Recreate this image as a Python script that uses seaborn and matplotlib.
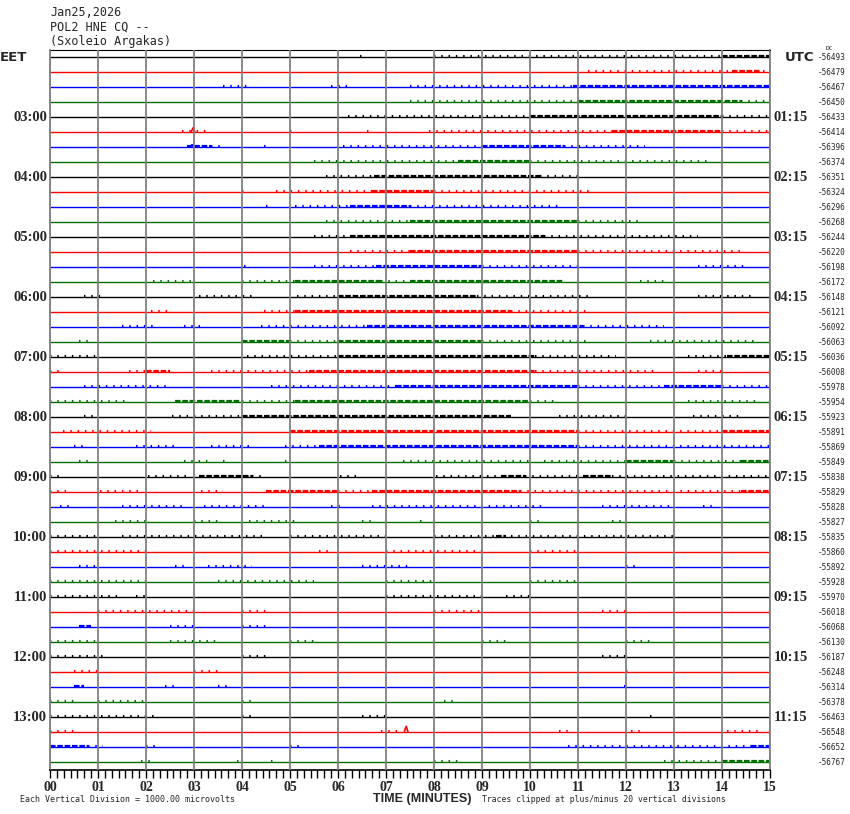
import numpy as np
import pandas as pd
import matplotlib
matplotlib.use("Agg")
import matplotlib.pyplot as plt
from matplotlib.ticker import MultipleLocator
import seaborn as sns

# Header text
DATE_LINE = "Jan25,2026"
STATION_LINE = "POL2 HNE CQ --"
SITE_LINE = "(Sxoleio Argakas)"

# DC offset for each 15-minute trace (top to bottom)
DC_OFFSETS = [-56493, -56479, -56467, -56450, -56433, -56414, -56396, -56374,
              -56351, -56324, -56296, -56268, -56244, -56220, -56198, -56172,
              -56148, -56121, -56092, -56063, -56036, -56008, -55978, -55954,
              -55923, -55891, -55869, -55849, -55838, -55829, -55828, -55827,
              -55835, -55860, -55892, -55928, -55970, -56018, -56068, -56130,
              -56187, -56248, -56314, -56378, -56463, -56548, -56652, -56767]

HOUR_ROWS = [4, 8, 12, 16, 20, 24, 28, 32, 36, 40, 44]
LEFT_HOURS = ["03:00", "04:00", "05:00", "06:00", "07:00", "08:00",
              "09:00", "10:00", "11:00", "12:00", "13:00"]
RIGHT_HOURS = ["01:15", "02:15", "03:15", "04:15", "05:15", "06:15",
               "07:15", "08:15", "09:15", "10:15", "11:15"]

TRACE_COLORS = ["#000000", "#ff0000", "#0000ff", "#007000"]
MINUTES = list(range(16))

# scattered noise stretches: (row, start minute, end minute)
SPARSE = [
    (0, 6.45, 6.55), (0, 8.0, 14.0),
    (1, 11.2, 15.0),
    (2, 3.6, 4.15), (2, 5.85, 6.3), (2, 7.5, 10.9),
    (3, 7.5, 11.0), (3, 14.4, 15.0),
    (4, 6.2, 10.0), (4, 14.0, 15.0),
    (5, 2.75, 3.3), (5, 5.0, 5.1), (5, 6.6, 6.7), (5, 7.9, 11.7), (5, 14.0, 15.0),
    (6, 3.35, 3.6), (6, 4.45, 4.55), (6, 6.1, 9.0), (6, 10.7, 12.4),
    (7, 5.5, 8.5), (7, 10.0, 13.75),
    (8, 5.75, 6.75), (8, 10.2, 11.0),
    (9, 4.0, 4.1), (9, 4.7, 6.7), (9, 8.0, 11.25),
    (10, 4.5, 4.6), (10, 5.1, 6.25), (10, 7.5, 10.6),
    (11, 5.75, 7.5), (11, 11.0, 12.3),
    (12, 5.5, 6.25), (12, 10.3, 13.5),
    (13, 6.25, 7.5), (13, 11.0, 14.4),
    (14, 4.05, 4.15), (14, 5.5, 6.8), (14, 9.0, 11.1), (14, 13.5, 14.45),
    (15, 2.15, 3.05), (15, 4.0, 5.1), (15, 6.9, 7.5), (15, 12.3, 12.85),
    (16, 0.7, 1.1), (16, 3.1, 4.3), (16, 5.15, 6.0), (16, 8.9, 11.3), (16, 13.5, 14.65),
    (17, 2.1, 2.5), (17, 4.45, 5.1), (17, 9.6, 11.25),
    (18, 1.5, 2.15), (18, 2.8, 3.2), (18, 4.4, 6.6), (18, 11.1, 12.8),
    (19, 0.6, 0.87), (19, 5.0, 6.0), (19, 9.0, 11.2), (19, 12.5, 14.7),
    (20, 0.0, 1.05), (20, 4.1, 6.0), (20, 10.1, 11.8), (20, 13.3, 14.1),
    (21, 0.0, 0.3), (21, 1.65, 2.0), (21, 3.35, 5.4), (21, 10.1, 12.6), (21, 13.5, 14.0),
    (22, 0.7, 2.5), (22, 4.6, 7.2), (22, 11.0, 12.8), (22, 14.0, 15.0),
    (23, 0.0, 1.65), (23, 4.0, 5.1), (23, 10.0, 10.6), (23, 13.3, 14.8),
    (24, 0.7, 1.0), (24, 2.55, 4.0), (24, 10.6, 12.0), (24, 13.4, 14.4),
    (25, 0.28, 2.1), (25, 11.0, 14.0),
    (26, 0.5, 0.7), (26, 1.8, 2.6), (26, 3.35, 4.25), (26, 4.9, 5.6), (26, 11.0, 15.0),
    (27, 0.6, 0.85), (27, 2.8, 3.3), (27, 3.6, 3.65), (27, 4.9, 4.95), (27, 7.35, 10.0),
    (27, 10.3, 12.0), (27, 13.0, 14.4),
    (28, 0.0, 0.3), (28, 2.05, 2.85), (28, 4.2, 4.45), (28, 6.05, 6.4), (28, 8.05, 9.4),
    (28, 9.9, 11.1), (28, 11.7, 15.0),
    (29, 0.0, 0.4), (29, 1.05, 1.9), (29, 3.15, 3.6), (29, 6.0, 6.7), (29, 9.8, 14.4),
    (30, 0.2, 0.5), (30, 1.5, 2.85), (30, 3.2, 4.5), (30, 5.85, 6.1), (30, 6.7, 10.3),
    (30, 11.5, 13.0), (30, 13.6, 13.9),
    (31, 1.35, 2.1), (31, 3.0, 3.55), (31, 4.15, 5.2), (31, 6.5, 6.75), (31, 7.7, 7.8),
    (31, 10.0, 10.2), (31, 11.7, 12.0),
    (32, 0.0, 1.0), (32, 1.5, 4.5), (32, 5.0, 7.0), (32, 8.0, 9.3), (32, 9.6, 13.0),
    (33, 0.0, 2.0), (33, 5.6, 5.8), (33, 7.0, 9.0), (33, 10.0, 11.0),
    (34, 0.6, 1.0), (34, 2.6, 2.8), (34, 3.3, 4.2), (34, 6.5, 7.5), (34, 12.0, 12.3),
    (35, 0.0, 2.0), (35, 3.5, 5.5), (35, 7.0, 8.0), (35, 10.0, 11.0),
    (36, 0.0, 1.5), (36, 1.8, 2.0), (36, 7.0, 9.0), (36, 9.5, 10.0),
    (37, 1.0, 3.0), (37, 4.0, 4.5), (37, 8.0, 9.0), (37, 11.5, 12.0),
    (38, 2.5, 3.0), (38, 4.0, 4.5),
    (39, 0.0, 1.0), (39, 2.5, 3.5), (39, 5.0, 5.5), (39, 9.0, 9.5), (39, 12.0, 12.5),
    (40, 0.0, 1.2), (40, 4.0, 4.5), (40, 11.5, 12.0),
    (41, 0.5, 1.0), (41, 3.0, 3.5), (41, 12.0, 12.1),
    (42, 2.4, 2.6), (42, 3.5, 3.7), (42, 11.95, 12.05),
    (43, 0.0, 0.6), (43, 1.0, 2.0), (43, 4.0, 4.3), (43, 8.2, 8.4),
    (44, 0.0, 2.2), (44, 4.0, 4.3), (44, 6.5, 7.0), (44, 12.5, 12.6),
    (45, 0.0, 0.5), (45, 6.9, 7.3), (45, 10.6, 10.8), (45, 12.1, 12.3), (45, 14.1, 14.8),
    (46, 0.8, 1.1), (46, 2.0, 2.2), (46, 5.0, 5.3), (46, 10.8, 14.6),
    (47, 1.9, 2.1), (47, 3.9, 4.0), (47, 4.6, 4.7), (47, 8.0, 8.5), (47, 12.8, 14.0),
]

# busy stretches where the trace looks thickened
DENSE = [
    (0, 14.0, 15.0), (1, 14.2, 14.8), (2, 10.9, 15.0), (3, 11.0, 14.4),
    (4, 10.0, 14.0), (5, 11.7, 14.0), (6, 2.85, 3.35), (6, 9.0, 10.7),
    (7, 8.5, 10.0), (8, 6.75, 10.2), (9, 6.7, 8.0), (10, 6.25, 7.5),
    (11, 7.5, 11.0), (12, 6.25, 10.3), (13, 7.5, 11.0), (14, 6.8, 9.0),
    (15, 5.1, 6.9), (15, 7.5, 10.7), (16, 6.0, 8.9), (17, 5.1, 9.6),
    (18, 6.6, 11.1), (19, 4.0, 5.0), (19, 6.0, 9.0), (20, 6.0, 10.1),
    (20, 14.1, 15.0), (21, 2.0, 2.5), (21, 5.4, 10.1), (22, 7.2, 11.0),
    (22, 12.8, 14.0), (23, 2.6, 4.0), (23, 5.1, 10.0), (24, 4.0, 9.6),
    (25, 5.0, 11.0), (25, 14.0, 15.0), (26, 5.6, 11.0), (27, 12.0, 13.0),
    (27, 14.4, 15.0), (28, 3.1, 4.2), (28, 9.4, 9.9), (28, 11.1, 11.7),
    (29, 4.5, 6.0), (29, 6.7, 9.8), (29, 14.4, 15.0), (32, 9.3, 9.5),
    (38, 0.6, 0.85), (42, 0.5, 0.7), (46, 0.0, 0.8), (46, 14.6, 15.0),
    (47, 14.0, 15.0),
]

# larger wiggles: (row, minute, height in vertical divisions)
EVENTS = [(5, 2.98, 0.28), (6, 2.96, 0.16), (45, 7.42, 0.38)]

sns.set_style("white")
plt.rcParams["font.family"] = ["DejaVu Sans"]

fig = plt.figure(figsize=(8.5, 8.14), dpi=100)
ax = fig.add_axes([50 / 850, 44 / 814, 720 / 850, 720 / 814])

palette = {c: c for c in TRACE_COLORS}
n_rows = len(DC_OFFSETS)

# base traces
base = pd.DataFrame({
    "t": [0, 15] * n_rows,
    "y": [-r for r in range(n_rows) for _ in range(2)],
    "row": [r for r in range(n_rows) for _ in range(2)],
    "color": [TRACE_COLORS[r % 4] for r in range(n_rows) for _ in range(2)],
})
sns.lineplot(data=base, x="t", y="y", hue="color", units="row", estimator=None,
             palette=palette, lw=1.0, legend=False, ax=ax)


def segments(items, lift):
    recs = []
    for i, (r, a, b) in enumerate(items):
        for t in (a, b):
            recs.append({"t": t, "y": -r + lift, "seg": i,
                         "color": TRACE_COLORS[r % 4]})
    return pd.DataFrame(recs)


sparse_df = segments(SPARSE, 0.06)
sns.lineplot(data=sparse_df, x="t", y="y", hue="color", units="seg",
             estimator=None, palette=palette, lw=1.5,
             linestyle=(0, (0.7, 2.8)), legend=False, ax=ax)

dense_df = segments(DENSE, 0.06)
sns.lineplot(data=dense_df, x="t", y="y", hue="color", units="seg",
             estimator=None, palette=palette, lw=1.6,
             linestyle=(0, (2.5, 0.8)), legend=False, ax=ax)

ev = []
for i, (r, t, h) in enumerate(EVENTS):
    for dt, dh in ((-0.04, 0), (0, h), (0.04, 0)):
        ev.append({"t": t + dt, "y": -r + dh, "seg": i, "color": TRACE_COLORS[r % 4]})
sns.lineplot(data=pd.DataFrame(ev), x="t", y="y", hue="color", units="seg",
             estimator=None, palette=palette, lw=1.2, sort=False,
             legend=False, ax=ax)

ax.set_xlim(0, 15)
ax.set_ylim(-n_rows + 0.467, 0.467)
ax.set_xlabel("")
ax.set_ylabel("")
ax.set_yticks([])
ax.set_xticks(MINUTES)
ax.set_xticklabels([f"{m:02d}" for m in MINUTES],
                   fontfamily="Liberation Serif", fontweight="bold", fontsize=10)
ax.xaxis.set_minor_locator(MultipleLocator(1 / 7))
ax.tick_params(axis="x", which="both", direction="out", length=6,
               width=1, color="black", pad=2, bottom=True)
ax.grid(axis="x", which="major", color="#808080", lw=1.3)
ax.grid(axis="y", visible=False)
ax.set_axisbelow(False)
for side in ("left", "right"):
    ax.spines[side].set_color("#808080")
    ax.spines[side].set_linewidth(1.3)
ax.spines["top"].set_color("black")
ax.spines["bottom"].set_color("black")
ax.spines["bottom"].set_linewidth(1.2)

# hour labels and DC values
for r, lh, rh in zip(HOUR_ROWS, LEFT_HOURS, RIGHT_HOURS):
    ax.text(-0.06, -r, lh, ha="right", va="center", fontsize=10.5,
            fontweight="bold", fontfamily="Liberation Serif", clip_on=False)
    ax.text(15.07, -r, rh, ha="left", va="center", fontsize=10.5,
            fontweight="bold", fontfamily="Liberation Serif", clip_on=False)
for r, dc in enumerate(DC_OFFSETS):
    ax.text(16.0, -r, str(dc), ha="left", va="center", fontsize=5.6,
            fontfamily="DejaVu Sans Mono", clip_on=False)

ax.text(-1.04, 0, "EET", ha="left", va="center", fontsize=9.5,
        fontweight="bold", clip_on=False)
ax.text(15.3, 0, "UTC", ha="left", va="center", fontsize=9.5,
        fontweight="bold", clip_on=False)
fig.text(826 / 850, 1 - 49 / 814, "DC", fontsize=4.5, va="center",
         fontfamily="DejaVu Sans Mono")

fig.text(50 / 850, 1 - 12 / 814, DATE_LINE, fontsize=8.5, va="center",
         fontfamily="DejaVu Sans Mono")
fig.text(50 / 850, 1 - 27 / 814, STATION_LINE, fontsize=8.5, va="center",
         fontfamily="DejaVu Sans Mono")
fig.text(50 / 850, 1 - 42 / 814, SITE_LINE, fontsize=8.5, va="center",
         fontfamily="DejaVu Sans Mono")

fig.text(422 / 850, 1 - 799 / 814, "TIME (MINUTES)", ha="center", va="center",
         fontsize=9, fontweight="bold", fontfamily="Liberation Sans")
fig.text(20 / 850, 1 - 800 / 814, "Each Vertical Division = 1000.00 microvolts",
         va="center", fontsize=6, fontfamily="DejaVu Sans Mono")
fig.text(482 / 850, 1 - 800 / 814,
         "Traces clipped at plus/minus 20 vertical divisions",
         va="center", fontsize=5.9, fontfamily="DejaVu Sans Mono")

fig.savefig("out.png", dpi=100)
